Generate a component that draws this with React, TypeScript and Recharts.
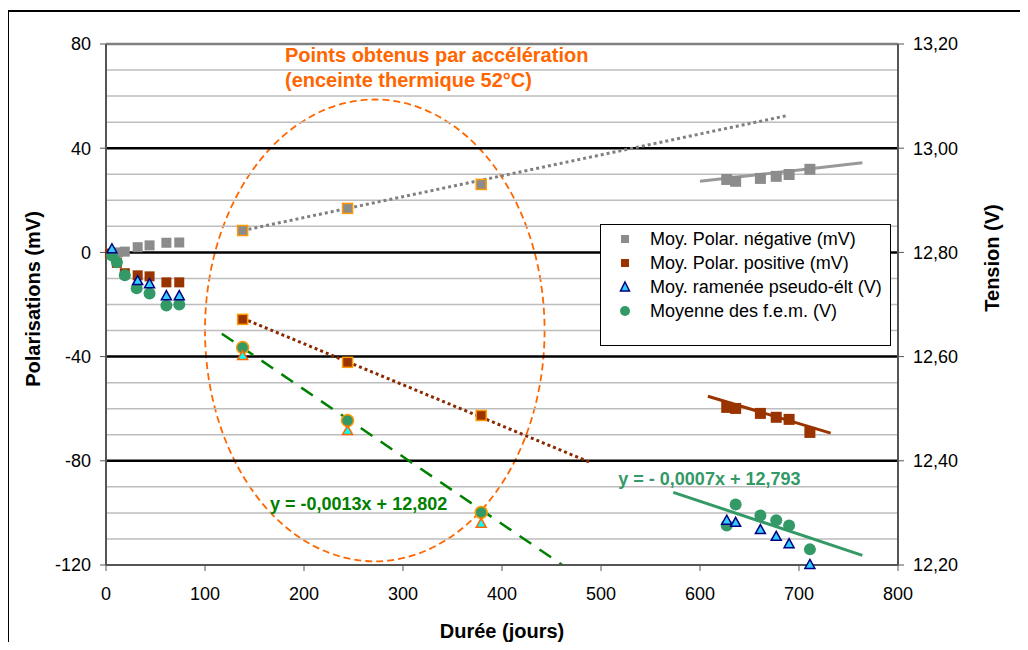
import React from 'react';
import {
  ComposedChart, Scatter, XAxis, YAxis, ReferenceLine, ReferenceArea, ReferenceDot, Legend, Label,
} from 'recharts';

const FONT = '"Liberation Sans", Arial, sans-serif';

// Durée (jours)
const DAYS_EARLY_NEG = [4, 12, 19, 32, 44, 61, 74];
const DAYS_EARLY_POS = [4, 11, 19, 32, 44, 61, 74];
const DAYS_EARLY_TRI = [6, 32, 44, 61, 74];
const DAYS_EARLY_FEM = [6, 11, 19, 31, 44, 61, 74];
const DAYS_ACCEL = [138, 244, 379];
const DAYS_LATE = [627, 636, 661, 677, 690, 711];

// Moy. Polar. négative (mV)
const NEG_EARLY = [-0.5, 0, 0.3, 2.0, 2.7, 3.7, 3.8];
const NEG_ACCEL = [8.4, 16.9, 26.1];
const NEG_LATE = [28.0, 27.3, 28.4, 29.2, 29.9, 31.9];

// Moy. Polar. positive (mV)
const POS_EARLY = [-0.5, -4, -8, -8.8, -9.2, -11.5, -11.5];
const POS_ACCEL = [-25.7, -42.2, -62.6];
const POS_LATE = [-59.5, -59.9, -61.8, -63.3, -64.1, -69.1];

// Moy. ramenée pseudo-élt (V)
const TRI_EARLY = [12.807, 12.746, 12.74, 12.717, 12.717];
const TRI_ACCEL = [12.602, 12.458, 12.28];
const TRI_LATE = [12.286, 12.282, 12.268, 12.255, 12.241, 12.201];

// Moyenne des f.e.m. (V)
const FEM_EARLY = [12.794, 12.781, 12.756, 12.731, 12.721, 12.698, 12.7];
const FEM_ACCEL = [12.6175, 12.4775, 12.301];
const FEM_LATE = [12.276, 12.316, 12.295, 12.286, 12.276, 12.23];

// trend lines: [startDay, startValue, endDay, endValue]
const TREND_NEG_ACCEL = [138, 8.4, 689, 52.6];
const TREND_NEG_LATE = [600, 27.3, 764, 34.4];
const TREND_POS_ACCEL = [138, -25.3, 489, -80.6];
const TREND_POS_LATE = [608, -55.2, 732, -69.4];
const TREND_FEM_ACCEL = [117, 12.644, 461, 12.2];
const TREND_FEM_LATE = [573, 12.3395, 764, 12.2185];

const X_TICKS = [0, 100, 200, 300, 400, 500, 600, 700, 800];
const MV_TICKS = [-120, -80, -40, 0, 40, 80];
const V_TICKS = [12.2, 12.4, 12.6, 12.8, 13.0, 13.2];
const MINOR_GRID = [-110, -100, -90, -70, -60, -50, -30, -20, -10, 10, 20, 30, 50, 60, 70];
const MAJOR_GRID = [-80, -40, 0, 40];

const toPoints = (days: number[], vals: number[]) => days.map((x, i) => ({ x, y: vals[i] }));
const seg = (t: number[]) => [{ x: t[0], y: t[1] }, { x: t[2], y: t[3] }];

const square = (fill: string, size: number, stroke?: string) => (p: any) => (
  <rect x={p.cx - size / 2} y={p.cy - size / 2} width={size} height={size} fill={fill}
    stroke={stroke || 'none'} strokeWidth={stroke ? 1.5 : 0} />
);
const triangle = (fill: string, stroke: string) => (p: any) => (
  <polygon points={`${p.cx},${p.cy - 5} ${p.cx + 5},${p.cy + 4} ${p.cx - 5},${p.cy + 4}`}
    fill={fill} stroke={stroke} strokeWidth={1.5} />
);
const circle = (fill: string, stroke?: string) => (p: any) => (
  <circle cx={p.cx} cy={p.cy} r={6} fill={fill} stroke={stroke || 'none'} strokeWidth={stroke ? 1.5 : 0} />
);

const LEGEND_ITEMS = [
  { label: 'Moy. Polar. négative (mV)', kind: 'sq', color: '#8c8c8c' },
  { label: 'Moy. Polar. positive (mV)', kind: 'sq', color: '#993300' },
  { label: 'Moy. ramenée pseudo-élt (V)', kind: 'tri', color: '#33ccff' },
  { label: 'Moyenne des f.e.m. (V)', kind: 'dot', color: '#339966' },
];

const LegendBox = () => (
  <div style={{
    border: '1px solid #000', background: '#fff', width: 291, height: 122, boxSizing: 'border-box',
    paddingTop: 2, fontFamily: FONT, fontSize: 18, color: '#000',
  }}>
    {LEGEND_ITEMS.map((item) => (
      <div key={item.label} style={{ display: 'flex', alignItems: 'center', height: 24 }}>
        <svg width={49} height={24}>
          {item.kind === 'sq' && <rect x={20} y={8} width={8} height={8} fill={item.color} />}
          {item.kind === 'tri' && <polygon points="24,7 28.5,16 19.5,16" fill={item.color} stroke="#000080" strokeWidth={1.5} />}
          {item.kind === 'dot' && <circle cx={24} cy={12} r={5} fill={item.color} />}
        </svg>
        <span style={{ whiteSpace: 'nowrap' }}>{item.label}</span>
      </div>
    ))}
  </div>
);

const tickStyle = { fontSize: 18, fill: '#000', fontFamily: FONT };

export default function App() {
  return (
    <div style={{ position: 'relative', width: 1012, height: 634 }}>
      <div style={{
        position: 'absolute', left: -1, top: 2, width: 1020, height: 640,
        borderTop: '2px solid #000', borderLeft: '2px solid #000', boxSizing: 'border-box',
      }} />
      <div style={{ position: 'absolute', left: 0, top: 0 }}>
        <ComposedChart width={1012} height={634} margin={{ top: 36, right: 0, bottom: 47, left: 0 }}>
          <XAxis dataKey="x" type="number" domain={[0, 800]} ticks={X_TICKS} interval={0}
            height={30} tickSize={6} tickMargin={16} tick={tickStyle}
            axisLine={{ stroke: '#555', strokeWidth: 2 }} tickLine={{ stroke: '#555' }}>
            <Label content={() => (
              <text x={494} y={630} textAnchor="middle" fontFamily={FONT} fontSize={20} fontWeight="bold" fill="#000">
                Durée (jours)
              </text>
            )} />
          </XAxis>
          <YAxis yAxisId="mv" type="number" domain={[-120, 80]} ticks={MV_TICKS} interval={0} width={98}
            tickSize={6} tickMargin={9} tick={tickStyle}
            axisLine={{ stroke: '#555', strokeWidth: 2 }} tickLine={{ stroke: '#555' }}>
            <Label content={() => (
              <text x={32} y={291} transform="rotate(-90 32 291)" textAnchor="middle" fontFamily={FONT}
                fontSize={20} fontWeight="bold" fill="#000">
                Polarisations (mV)
              </text>
            )} />
          </YAxis>
          <YAxis yAxisId="v" orientation="right" type="number" domain={[12.2, 13.2]} ticks={V_TICKS}
            interval={0} width={122} tickSize={6} tickMargin={9} tick={tickStyle}
            tickFormatter={(v: number) => v.toFixed(2).replace('.', ',')}
            axisLine={{ stroke: '#555', strokeWidth: 2 }} tickLine={{ stroke: '#555' }}>
            <Label content={() => (
              <text x={991} y={250} transform="rotate(-90 991 250)" textAnchor="middle" fontFamily={FONT}
                fontSize={20} fontWeight="bold" fill="#000">
                Tension (V)
              </text>
            )} />
          </YAxis>

          {MINOR_GRID.map((v) => (
            <ReferenceLine key={`mi${v}`} yAxisId="mv" y={v} stroke="#bdbdbd" strokeWidth={1.5} />
          ))}
          {MAJOR_GRID.map((v) => (
            <ReferenceLine key={`ma${v}`} yAxisId="mv" y={v} stroke="#000" strokeWidth={2.5} />
          ))}
          <ReferenceLine yAxisId="mv" y={80} stroke="#808080" strokeWidth={2.5} />

          <ReferenceArea yAxisId="mv" x1={100} x2={443} y1={-118.6} y2={58.7}
            shape={(p: any) => (
              <ellipse cx={p.x + p.width / 2} cy={p.y + p.height / 2} rx={p.width / 2} ry={p.height / 2}
                fill="none" stroke="#ff6600" strokeWidth={1.8} strokeDasharray="7 4" />
            )} />

          <ReferenceLine yAxisId="mv" segment={seg(TREND_NEG_ACCEL)} stroke="#808080" strokeWidth={3} strokeDasharray="3 3" />
          <ReferenceLine yAxisId="mv" segment={seg(TREND_NEG_LATE)} stroke="#999999" strokeWidth={3} />
          <ReferenceLine yAxisId="mv" segment={seg(TREND_POS_ACCEL)} stroke="#8b2a00" strokeWidth={3} strokeDasharray="3 3" />
          <ReferenceLine yAxisId="mv" segment={seg(TREND_POS_LATE)} stroke="#993300" strokeWidth={3} />
          <ReferenceLine yAxisId="v" segment={seg(TREND_FEM_ACCEL)} stroke="#008000" strokeWidth={2.5} strokeDasharray="14 10" />
          <ReferenceLine yAxisId="v" segment={seg(TREND_FEM_LATE)} stroke="#339966" strokeWidth={3} />

          <Scatter yAxisId="mv" dataKey="y" data={toPoints(DAYS_EARLY_NEG, NEG_EARLY)} shape={square('#8c8c8c', 10)} isAnimationActive={false} />
          <Scatter yAxisId="mv" dataKey="y" data={toPoints(DAYS_ACCEL, NEG_ACCEL)} shape={square('#8c8c8c', 10, '#ff9900')} isAnimationActive={false} />
          <Scatter yAxisId="mv" dataKey="y" data={toPoints(DAYS_LATE, NEG_LATE)} shape={square('#8c8c8c', 11)} isAnimationActive={false} />

          <Scatter yAxisId="mv" dataKey="y" data={toPoints(DAYS_EARLY_POS, POS_EARLY)} shape={square('#993300', 10)} isAnimationActive={false} />
          <Scatter yAxisId="mv" dataKey="y" data={toPoints(DAYS_ACCEL, POS_ACCEL)} shape={square('#993300', 10, '#ff9900')} isAnimationActive={false} />
          <Scatter yAxisId="mv" dataKey="y" data={toPoints(DAYS_LATE, POS_LATE)} shape={square('#993300', 11)} isAnimationActive={false} />

          <Scatter yAxisId="v" dataKey="y" data={toPoints(DAYS_EARLY_FEM, FEM_EARLY)} shape={circle('#339966')} isAnimationActive={false} />
          <Scatter yAxisId="v" dataKey="y" data={toPoints(DAYS_ACCEL, FEM_ACCEL)} shape={circle('#339966', '#ff9900')} isAnimationActive={false} />
          <Scatter yAxisId="v" dataKey="y" data={toPoints(DAYS_LATE, FEM_LATE)} shape={circle('#339966')} isAnimationActive={false} />

          <Scatter yAxisId="v" dataKey="y" data={toPoints(DAYS_EARLY_TRI, TRI_EARLY)} shape={triangle('#33ccff', '#000080')} isAnimationActive={false} />
          <Scatter yAxisId="v" dataKey="y" data={toPoints(DAYS_ACCEL, TRI_ACCEL)} shape={triangle('#00ffff', '#ff6600')} isAnimationActive={false} />
          <Scatter yAxisId="v" dataKey="y" data={toPoints(DAYS_LATE, TRI_LATE)} shape={triangle('#33ccff', '#000080')} isAnimationActive={false} />

          <ReferenceDot yAxisId="mv" x={180.8} y={72.9} r={0}
            shape={(p: any) => (
              <text x={p.cx} y={p.cy} fontFamily={FONT} fontSize={20} fontWeight="bold" fill="#ff6600">
                <tspan x={p.cx}>Points obtenus par accélération</tspan>
                <tspan x={p.cx} dy={25}>(enceinte thermique 52°C)</tspan>
              </text>
            )} />
          <ReferenceDot yAxisId="mv" x={165.7} y={-99} r={0}
            shape={(p: any) => (
              <text x={p.cx} y={p.cy} fontFamily={FONT} fontSize={18} fontWeight="bold" fill="#008000">
                y = -0,0013x + 12,802
              </text>
            )} />
          <ReferenceDot yAxisId="mv" x={517.5} y={-89.4} r={0}
            shape={(p: any) => (
              <text x={p.cx} y={p.cy} fontFamily={FONT} fontSize={18} fontWeight="bold" fill="#339966">
                y = - 0,0007x + 12,793
              </text>
            )} />

          <Legend layout="horizontal" verticalAlign="middle" align="center" content={() => <LegendBox />}
            wrapperStyle={{ position: 'absolute', left: 592, top: 216, width: 291, height: 122 }} />
        </ComposedChart>
      </div>
    </div>
  );
}
